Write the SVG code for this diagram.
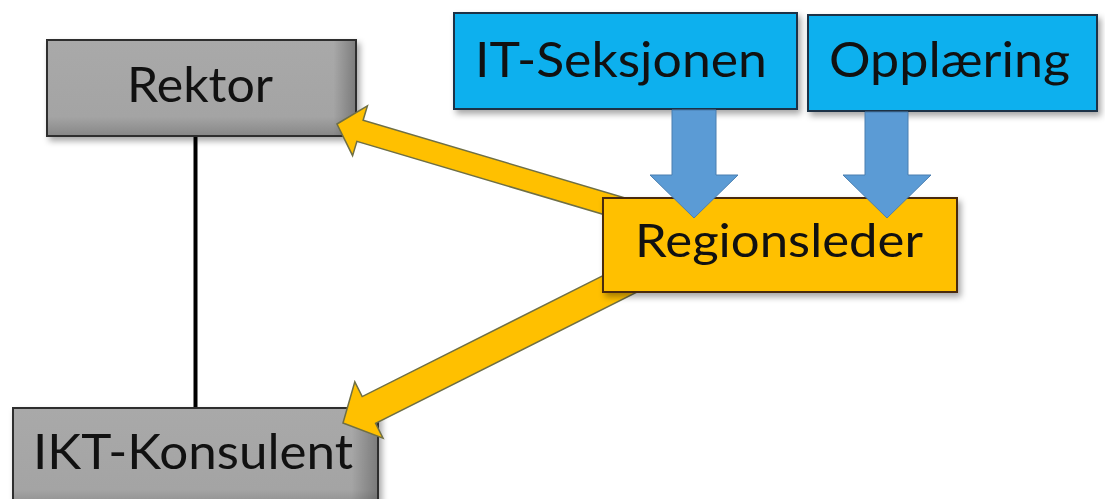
<svg xmlns="http://www.w3.org/2000/svg" width="1105" height="499" viewBox="0 0 1105 499">
  <defs>
    <filter id="shadow" x="-10%" y="-10%" width="125%" height="140%">
      <feDropShadow dx="3" dy="4" stdDeviation="3" flood-color="#000" flood-opacity="0.35"/>
    </filter>
    <linearGradient id="grayFill" x1="0" y1="0" x2="0" y2="1">
      <stop offset="0" stop-color="#a9a9a9"/>
      <stop offset="0.8" stop-color="#a4a4a4"/>
      <stop offset="1" stop-color="#878787"/>
    </linearGradient>
    <linearGradient id="grayEdge" x1="0" y1="0" x2="1" y2="0">
      <stop offset="0.93" stop-color="#000" stop-opacity="0"/>
      <stop offset="1" stop-color="#000" stop-opacity="0.25"/>
    </linearGradient>
  </defs>
  <style>
    .label { font-family: Lato, "Liberation Sans", sans-serif; text-anchor: middle; fill: #111; }
    .gray { fill: url(#grayFill); stroke: #2e2e2e; stroke-width: 2; filter: url(#shadow); }
    .edge { fill: url(#grayEdge); stroke: none; }
    .blue { fill: #0fb0ee; stroke: #1b3347; stroke-width: 2; filter: url(#shadow); }
    .orange { fill: #ffc000; stroke: #4a2c0c; stroke-width: 2; filter: url(#shadow); }
    .flow { fill: #ffc000; stroke: #6f6f45; stroke-width: 1.5; stroke-linejoin: miter; }
    .feed { fill: #5b9bd5; stroke: #4a7fb0; stroke-width: 1; }
    .link { stroke: #000; stroke-width: 4; fill: none; }
  </style>

  <rect width="1105" height="499" fill="#fff"/>

  <!-- reporting line between Rektor and IKT-Konsulent -->
  <g id="connectors-line">
    <line class="link" x1="195.5" y1="136" x2="195.5" y2="408"/>
  </g>

  <g id="rektor">
    <rect class="gray" x="47" y="40" width="309" height="96"/>
    <rect class="edge" x="48" y="41" width="307" height="94"/>
    <text class="label" x="200" y="102" font-size="48" textLength="146" lengthAdjust="spacingAndGlyphs">Rektor</text>
  </g>

  <g id="ikt-konsulent">
    <rect class="gray" x="13" y="408" width="365" height="102"/>
    <rect class="edge" x="14" y="409" width="363" height="100"/>
    <text class="label" x="193" y="469" font-size="49" textLength="320" lengthAdjust="spacingAndGlyphs">IKT-Konsulent</text>
  </g>

  <!-- block arrows from Regionsleder -->
  <g id="connectors">
    <polygon class="flow" points="337,124 367.4,105.9 363.1,120.2 647.1,204.5 640.9,225.5 356.9,141.4 352.6,155.7"/>
    <polygon class="flow" points="343,423 354.8,381.8 362.2,396.6 631.3,261.4 644.7,288.2 375.6,423.4 383,438.2"/>
  </g>

  <g id="regionsleder">
    <rect class="orange" x="603" y="198" width="354" height="94"/>
    <text class="label" x="779" y="257" font-size="46" textLength="288" lengthAdjust="spacingAndGlyphs">Regionsleder</text>
  </g>

  <g id="it-seksjonen">
    <rect class="blue" x="454" y="13" width="343" height="96"/>
    <text class="label" x="621" y="77" font-size="48" textLength="292" lengthAdjust="spacingAndGlyphs">IT-Seksjonen</text>
  </g>

  <g id="opplaering">
    <rect class="blue" x="808" y="15" width="289" height="96"/>
    <text class="label" x="949.5" y="77" font-size="48" textLength="241" lengthAdjust="spacingAndGlyphs">Opplæring</text>
  </g>

  <!-- downward arrows into Regionsleder -->
  <g id="connectors-feed">
    <polygon class="feed" points="672,110 716,110 716,175 738,175 694,218 650,175 672,175"/>
    <polygon class="feed" points="865,112 908,112 908,175 931,175 887,218 843,175 865,175"/>
  </g>
</svg>
